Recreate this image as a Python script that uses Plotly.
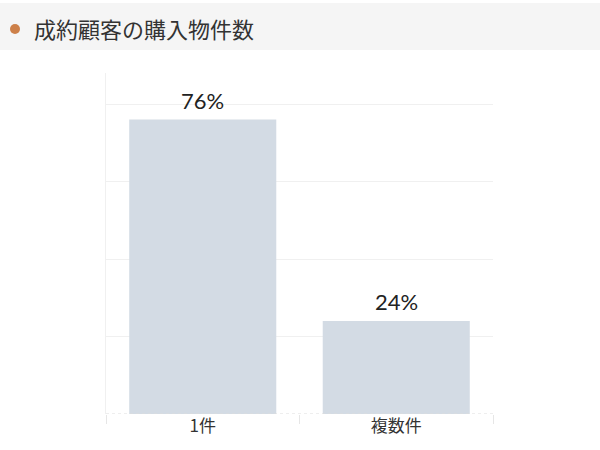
import plotly.graph_objects as go

categories = ["1件", "複数件"]
values = [76, 24]
labels = ["76%", "24%"]
title_text = "成約顧客の購入物件数"

W, H = 600, 450
L, R, T, B = 106, 107, 73, 36
pw, ph = W - L - R, H - T - B

def px_x(x):
    return (x - L) / pw

def px_y(y):
    return (H - B - y) / ph

fig = go.Figure()
fig.add_trace(go.Bar(
    x=categories, y=values,
    marker=dict(color="#d3dbe4", line=dict(width=0)),
    hoverinfo="skip",
))

label_annotations = [
    dict(x=c, y=v, xref="x", yref="y", text=t, showarrow=False,
         xanchor="center", yanchor="bottom", yshift=4,
         font=dict(family="Lato, Noto Sans CJK JP", size=22, color="#222222"))
    for c, v, t in zip(categories, values, labels)
]

fig.update_layout(
    width=W, height=H,
    margin=dict(l=L, r=R, t=T, b=B, pad=0),
    paper_bgcolor="white", plot_bgcolor="white",
    bargap=0.24,
    showlegend=False,
    font=dict(family="Noto Sans CJK JP", color="#333333"),
    xaxis=dict(
        showgrid=False, showline=False, zeroline=False,
        ticks="outside", tickson="boundaries", ticklen=9, tickcolor="#e6e6e6", tickwidth=1,
        tickfont=dict(size=17, color="#333333", family="Noto Sans CJK JP"),
    ),
    yaxis=dict(
        range=[0, 88], dtick=20, showticklabels=False,
        showgrid=True, gridcolor="#f0f0f0", gridwidth=1,
        zeroline=False, showline=True, linecolor="#f0f0f0", linewidth=1,
        ticks="",
    ),
    shapes=[
        dict(type="rect", xref="paper", yref="paper",
             x0=px_x(-5), x1=px_x(W + 5), y0=px_y(50), y1=px_y(3),
             fillcolor="#f5f5f5", line=dict(width=0), layer="below"),
        dict(type="circle", xref="paper", yref="paper",
             x0=px_x(10), x1=px_x(20), y0=px_y(34), y1=px_y(24),
             fillcolor="#cd8049", line=dict(width=0)),
        dict(type="line", xref="paper", yref="y",
             x0=0, x1=1, y0=0, y1=0,
             line=dict(color="#dddddd", width=1, dash="dot")),
    ],
    annotations=[
        dict(text=title_text, xref="paper", yref="paper",
             x=px_x(32), y=px_y(28), xanchor="left", yanchor="middle",
             showarrow=False,
             font=dict(family="Noto Sans CJK JP", size=22, color="#333333")),
    ] + label_annotations,
)

fig.write_html("out.html",
               config={"displayModeBar": False},
               post_script="document.body.style.margin='0';document.body.style.padding='0';")
